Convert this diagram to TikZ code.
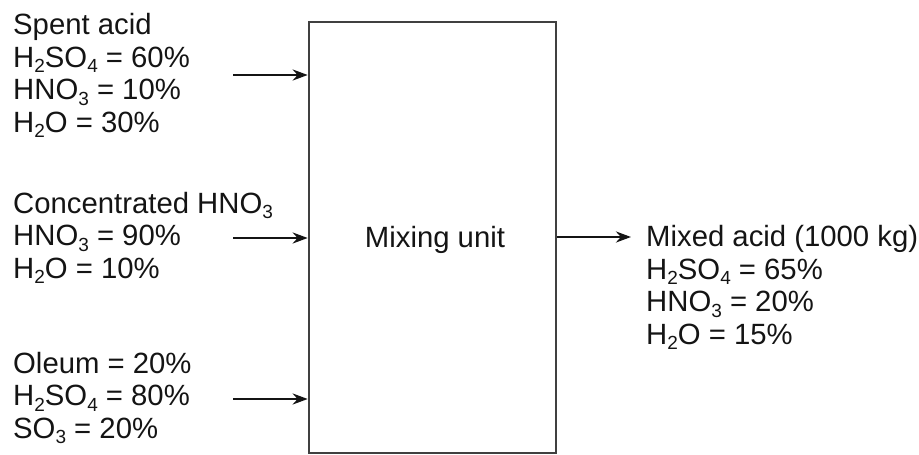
\documentclass[tikz,border=0pt]{standalone}
\usepackage{fontspec}
\setmainfont{Liberation Sans}
\usetikzlibrary{arrows.meta}
\newcommand{\chs}[1]{\raisebox{-0.2em}{\fontsize{19}{19}\selectfont #1}}
\tikzset{
  lbl/.style={anchor=base west, inner sep=0pt, align=left, text=black!92,
              font=\fontsize{29.3}{32.5}\selectfont},
  unitbox/.style={draw=black!75, line width=2.6pt, minimum width=247pt, minimum height=431pt, inner sep=0pt},
  flow/.style={line width=2.6pt, draw=black!92, -{Stealth[length=15pt,width=11pt]}}
}
\begin{document}
\begin{tikzpicture}[x=1pt,y=-1pt]
\useasboundingbox (0,0) rectangle (919,455);
\node[unitbox] (unit) at (432.5,237.5) {};
\node[lbl, anchor=base] (ulbl) at (435,247) {Mixing unit};
\node[lbl] (spent) at (13,132) {Spent acid\\H\chs{2}SO\chs{4} = 60\%\\HNO\chs{3} = 10\%\\H\chs{2}O = 30\%};
\node[lbl] (conc) at (13,278) {Concentrated HNO\chs{3}\\HNO\chs{3} = 90\%\\H\chs{2}O = 10\%};
\node[lbl] (oleum) at (13,438) {Oleum = 20\%\\H\chs{2}SO\chs{4} = 80\%\\SO\chs{3} = 20\%};
\node[lbl] (mixed) at (646,344) {Mixed acid (1000 kg)\\H\chs{2}SO\chs{4} = 65\%\\HNO\chs{3} = 20\%\\H\chs{2}O = 15\%};
\coordinate (a1) at (233,75);
\coordinate (a2) at (233,238);
\coordinate (a3) at (233,399);
\coordinate (o1) at (631,237);
\draw[flow] (a1) -- (a1 -| unit.west);
\draw[flow] (a2) -- (a2 -| unit.west);
\draw[flow] (a3) -- (a3 -| unit.west);
\draw[flow] (unit.east |- o1) -- (o1);
\end{tikzpicture}
\end{document}
